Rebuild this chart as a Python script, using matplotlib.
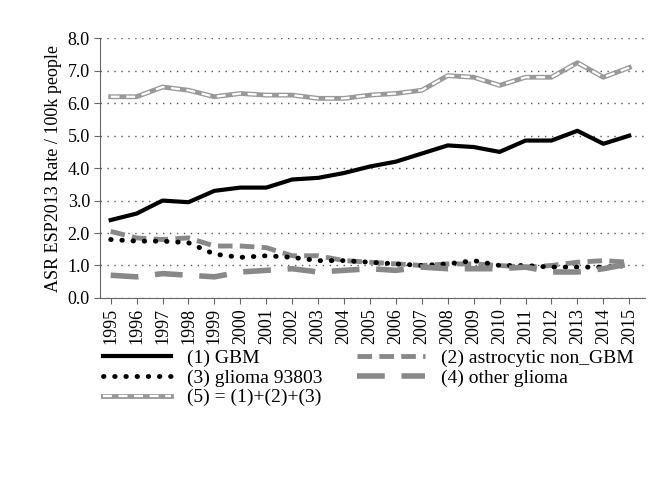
import matplotlib.pyplot as plt
import numpy as np

plt.rcParams['font.family'] = ['Liberation Serif', 'DejaVu Serif']

years = list(range(1995, 2016))
gbm = [2.4, 2.6, 3.0, 2.95, 3.3, 3.4, 3.4, 3.65, 3.7, 3.85, 4.05, 4.2, 4.45, 4.7, 4.65, 4.5, 4.85, 4.85, 5.15, 4.75, 5.0]
astro = [2.05, 1.85, 1.8, 1.85, 1.6, 1.6, 1.55, 1.3, 1.3, 1.15, 1.1, 1.05, 1.0, 1.05, 1.05, 1.0, 0.95, 1.0, 1.1, 1.15, 1.1]
glioma = [1.8, 1.75, 1.75, 1.7, 1.35, 1.25, 1.3, 1.25, 1.15, 1.15, 1.1, 1.05, 1.0, 1.05, 1.15, 1.0, 1.0, 0.95, 0.95, 0.95, 1.0]
other = [0.7, 0.65, 0.75, 0.7, 0.65, 0.8, 0.85, 0.9, 0.8, 0.85, 0.9, 0.85, 0.95, 0.9, 0.9, 0.9, 0.95, 0.8, 0.8, 0.9, 1.05]
total = [6.2, 6.2, 6.5, 6.4, 6.2, 6.3, 6.25, 6.25, 6.15, 6.15, 6.25, 6.3, 6.4, 6.85, 6.8, 6.55, 6.8, 6.8, 7.25, 6.8, 7.1]

fig = plt.figure(figsize=(6.6, 4.79), dpi=100)
ax = fig.add_axes([0.152, 0.378, 0.825, 0.542])
x = np.arange(len(years))

ax.plot(x, gbm, color='black', lw=3, label='(1) GBM')
ax.plot(x, astro, color='#888888', lw=3.5, ls=(0, (3, 1.5)), label='(2) astrocytic non_GBM')
ax.plot(x, glioma, color='black', lw=3.5, ls=(0, (0.1, 2.2)), dash_capstyle='round', label='(3) glioma 93803')
ax.plot(x, other, color='#888888', lw=4, ls=(0, (5, 3)), label='(4) other glioma')
l5a, = ax.plot(x, total, color='#999999', lw=3.5)
l5b, = ax.plot(x, total, color='white', lw=1.6, ls=(0, (4, 3)))

ax.set_xlim(-0.4, len(years) - 0.4)
ax.set_ylim(0, 8)
ax.set_yticks(np.arange(0, 8.1, 1))
ax.set_yticklabels([f'{v:.1f}' for v in np.arange(0, 8.1, 1)], fontsize=13)
ax.set_xticks(x)
ax.set_xticklabels([str(y) for y in years], rotation=90, fontsize=13)
ax.yaxis.grid(True, color='#555555', ls=(0, (1, 4)), lw=1)
ax.set_axisbelow(True)
for s in ['top', 'right']:
    ax.spines[s].set_visible(False)
ax.spines['left'].set_color('#666666')
ax.spines['bottom'].set_color('#666666')
ax.tick_params(colors='black', length=4, color='#666666')
ax.set_ylabel('ASR ESP2013 Rate / 100k people', fontsize=13)

h, l = ax.get_legend_handles_labels()
handles = [h[0], h[2], (l5a, l5b), h[1], h[3]]
labels = [l[0], l[2], '(5) = (1)+(2)+(3)', l[1], l[3]]
fig.legend(handles, labels, loc='lower left', bbox_to_anchor=(0.13, 0.115), ncol=2,
           frameon=False, fontsize=14, handlelength=3.5, columnspacing=1.8,
           labelspacing=0.1)

plt.savefig('out.png')
